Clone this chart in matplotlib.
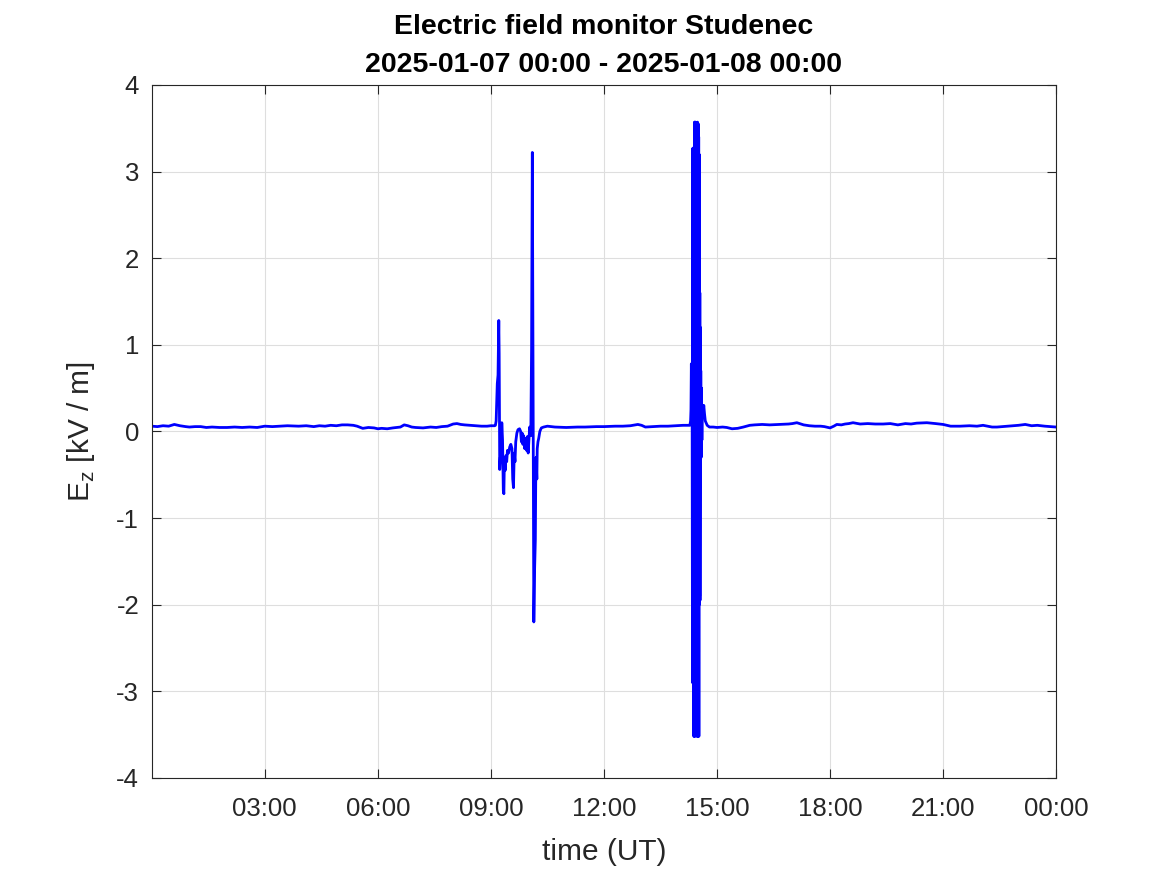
import matplotlib
matplotlib.use('Agg')
import matplotlib.pyplot as plt

plt.rcParams['font.family'] = ['Liberation Sans', 'DejaVu Sans']
plt.rcParams['mathtext.fontset'] = 'custom'
plt.rcParams['mathtext.rm'] = 'Liberation Sans'
plt.rcParams['axes.unicode_minus'] = False

# hours since 2025-01-07 00:00 UT and vertical field in kV/m
t_before = [0.0, 0.15, 0.3, 0.45, 0.6, 0.75, 0.9, 1.0, 1.15, 1.3, 1.45, 1.6, 1.8, 2.0, 2.2, 2.4,
            2.6, 2.8, 3.0, 3.2, 3.4, 3.6, 3.9, 4.1, 4.3, 4.45, 4.6, 4.75, 4.9, 5.05, 5.2, 5.35,
            5.45, 5.6, 5.75, 5.9, 6.0, 6.1, 6.25, 6.4, 6.5, 6.6, 6.7, 6.8, 6.9, 7.0, 7.2, 7.4,
            7.55, 7.7, 7.85, 8.0, 8.1, 8.2, 8.3, 8.45, 8.6, 8.75, 8.9, 9.0, 9.1]
ez_before = [0.06, 0.055, 0.065, 0.06, 0.08, 0.065, 0.055, 0.05, 0.055, 0.055, 0.045, 0.05, 0.045, 0.045, 0.05, 0.045,
             0.05, 0.045, 0.06, 0.055, 0.06, 0.065, 0.06, 0.065, 0.055, 0.065, 0.06, 0.07, 0.065, 0.075, 0.075, 0.07,
             0.06, 0.035, 0.045, 0.04, 0.03, 0.035, 0.03, 0.04, 0.045, 0.05, 0.075, 0.065, 0.05, 0.045, 0.04, 0.05,
             0.045, 0.055, 0.06, 0.085, 0.09, 0.08, 0.075, 0.07, 0.065, 0.06, 0.06, 0.065, 0.065]

t_event1 = [9.12, 9.14, 9.17, 9.19, 9.21, 9.22, 9.235, 9.25, 9.27, 9.29, 9.31, 9.33, 9.345, 9.36, 9.38,
            9.40, 9.42, 9.44, 9.47, 9.50, 9.53, 9.56, 9.58, 9.60, 9.62, 9.64, 9.66, 9.69, 9.72, 9.76,
            9.79, 9.81, 9.83, 9.85, 9.87, 9.90, 9.92, 9.95, 9.97, 9.99, 10.01, 10.03, 10.06, 10.08,
            10.10, 10.12, 10.14, 10.16, 10.18, 10.19, 10.20, 10.22, 10.23, 10.25, 10.27, 10.30, 10.34,
            10.40, 10.5]
ez_event1 = [0.07, 0.12, 0.55, 0.65, 1.28, 0.9, -0.44, -0.3, -0.35, 0.1, -0.1, -0.68, -0.72, -0.3, -0.45,
             -0.28, -0.35, -0.22, -0.25, -0.18, -0.15, -0.2, -0.55, -0.65, -0.25, -0.35, -0.12, -0.02, 0.02, 0.03,
             0.0, -0.12, -0.02, -0.15, -0.05, -0.2, -0.08, -0.22, -0.06, -0.25, -0.1, 0.05, -0.05, 0.95,
             3.22, 0.3, -2.2, -1.6, -1.25, -0.6, -0.3, -0.55, -0.2, -0.12, -0.08, 0.0, 0.04,
             0.05, 0.06]

t_middle = [10.7, 11.0, 11.3, 11.5, 11.8, 12.0, 12.3, 12.5, 12.7, 12.9, 13.0, 13.1, 13.3, 13.5, 13.7, 13.9, 14.1, 14.25]
ez_middle = [0.05, 0.045, 0.05, 0.05, 0.055, 0.055, 0.06, 0.06, 0.065, 0.08, 0.07, 0.05, 0.055, 0.06, 0.06, 0.065, 0.07, 0.07]

t_event2 = [14.28, 14.30, 14.31, 14.32, 14.33, 14.34, 14.35, 14.36, 14.37, 14.38, 14.385, 14.39,
            14.40, 14.405, 14.41, 14.415, 14.42, 14.425, 14.43, 14.435, 14.44, 14.445, 14.45, 14.455,
            14.46, 14.465, 14.47, 14.475, 14.48, 14.485, 14.49, 14.495, 14.50, 14.505, 14.51, 14.515,
            14.52, 14.525, 14.53, 14.535, 14.54, 14.545, 14.55, 14.56, 14.565, 14.57, 14.58, 14.59,
            14.60, 14.61, 14.63, 14.65, 14.67, 14.69, 14.71, 14.74, 14.8]
ez_event2 = [0.07, 0.12, 0.25, 0.78, 0.1, 0.7, -2.9, 3.27, -2.9, 3.2, -3.52, 3.0,
             -3.52, 3.57, -3.3, 3.57, -3.5, 3.55, -3.4, 3.57, -3.52, 3.5, -3.4, 3.55,
             -2.7, 3.55, -2.6, 3.5, -3.52, 3.57, -3.45, 3.5, -3.52, 3.55, -3.3, 3.4,
             -3.52, 3.2, -2.0, 1.65, -1.9, 1.6, -1.95, 1.2, -0.3, 0.7, -0.3, 0.5,
             -0.1, 0.3, 0.2, 0.3, 0.2, 0.12, 0.1, 0.07, 0.05]

t_after = [14.9, 15.0, 15.15, 15.26, 15.4, 15.55, 15.7, 15.87, 16.0, 16.2, 16.4, 16.67, 16.9, 17.0, 17.12,
           17.3, 17.45, 17.6, 17.75, 17.85, 18.0, 18.1, 18.18, 18.3, 18.4, 18.5, 18.61, 18.8, 19.0, 19.2,
           19.41, 19.6, 19.8, 20.0, 20.15, 20.3, 20.57, 20.8, 21.0, 21.2, 21.45, 21.7, 21.9, 22.06, 22.3,
           22.43, 22.7, 23.0, 23.18, 23.35, 23.5, 23.7, 23.84, 24.0]
ez_after = [0.05, 0.045, 0.05, 0.045, 0.03, 0.035, 0.05, 0.07, 0.075, 0.08, 0.075, 0.08, 0.085, 0.09, 0.1,
            0.075, 0.065, 0.06, 0.06, 0.055, 0.04, 0.06, 0.08, 0.075, 0.085, 0.09, 0.1, 0.085, 0.09, 0.085,
            0.085, 0.09, 0.075, 0.09, 0.085, 0.095, 0.1, 0.09, 0.08, 0.06, 0.06, 0.065, 0.06, 0.07, 0.05,
            0.05, 0.06, 0.07, 0.08, 0.065, 0.07, 0.06, 0.055, 0.05]

hours = t_before + t_event1 + t_middle + t_event2 + t_after
ez = ez_before + ez_event1 + ez_middle + ez_event2 + ez_after

xtick_hours = [3, 6, 9, 12, 15, 18, 21, 24]
xtick_labels = ['03:00', '06:00', '09:00', '12:00', '15:00', '18:00', '21:00', '00:00']
ytick_vals = [-4, -3, -2, -1, 0, 1, 2, 3, 4]

fig = plt.figure(figsize=(11.67, 8.75), dpi=100)
ax = fig.add_axes([0.130, 0.111, 0.775, 0.792])

ax.plot(hours, ez, color=(0, 0, 1), linewidth=2.0)

ax.set_xlim(0, 24)
ax.set_ylim(-4, 4)
ax.set_xticks(xtick_hours)
ax.set_xticklabels(xtick_labels)
ax.set_yticks(ytick_vals)
ax.set_yticklabels([str(v) for v in ytick_vals])

ax.grid(True, color='#dedede', linewidth=0.8)
ax.set_axisbelow(True)
for s in ax.spines.values():
    s.set_color('#262626')
    s.set_linewidth(0.8)
ax.tick_params(direction='in', top=True, right=True, length=6.5, width=0.8,
               colors='#262626', labelsize=18.5, pad=9)
ax.tick_params(axis='x', pad=14)

ax.set_xlabel('time (UT)', fontsize=21.5, color='#262626', labelpad=12)
ax.set_ylabel(r'E$_\mathrm{z}$ [kV / m]', fontsize=21.5, color='#262626', labelpad=14)
ax.set_title('Electric field monitor Studenec\n2025-01-07 00:00 - 2025-01-08 00:00',
             fontsize=20.5, fontweight='bold', linespacing=1.6, pad=9)

fig.savefig('out.png', dpi=100)
